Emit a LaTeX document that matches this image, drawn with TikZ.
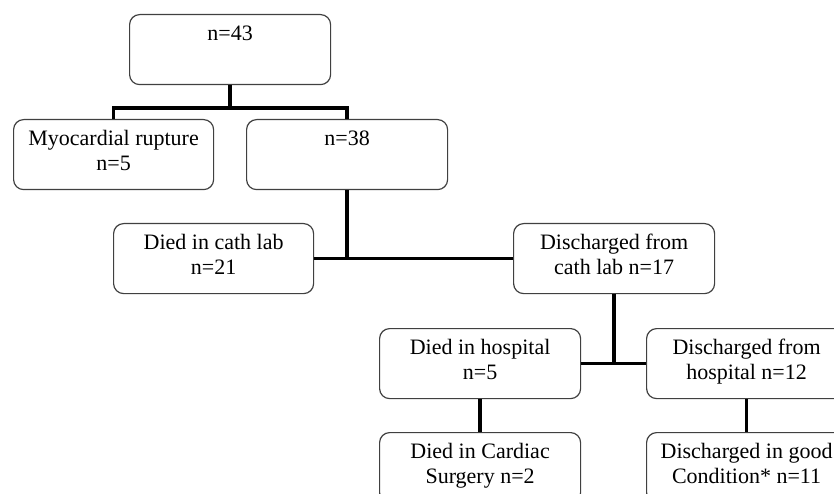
\documentclass[tikz,border=0pt]{standalone}
\usepackage{fontspec}
\setmainfont{Liberation Serif}
\begin{document}
\begin{tikzpicture}[x=1pt,y=-1pt,
  box/.style={draw=black!75, line width=1.2pt, rounded corners=10pt, minimum width=200pt, minimum height=70pt, inner sep=0pt, anchor=north west},
  txt/.style={anchor=north, align=center, inner sep=0pt, font=\fontsize{22}{25}\selectfont},
  conn/.style={line width=3.5pt, black}]
\useasboundingbox (0,0) rectangle (834,494);
\clip (0,0) rectangle (834,494);
% boxes
\node[box, minimum width=201pt] (A) at (129,14) {};
\node[box] (B) at (13,119) {};
\node[box, minimum width=201pt] (C) at (246,119) {};
\node[box] (D) at (113,223) {};
\node[box, minimum width=201pt] (E) at (513,223) {};
\node[box, minimum width=201pt] (F) at (379,328) {};
\node[box] (G) at (646,328) {};
\node[box, minimum width=201pt] (H) at (379,432) {};
\node[box] (I) at (646,432) {};
% texts
\node[txt] (tA) at ([yshift=-9pt]A.north) {\strut n=43};
\node[txt] (tB) at ([yshift=-9pt]B.north) {\strut Myocardial rupture\\n=5};
\node[txt] (tC) at ([yshift=-9pt]C.north) {\strut n=38};
\node[txt] (tD) at ([yshift=-9pt]D.north) {\strut Died in cath lab\\n=21};
\node[txt] (tE) at ([yshift=-9pt]E.north) {\strut Discharged from\\cath lab n=17};
\node[txt] (tF) at ([yshift=-9pt]F.north) {\strut Died in hospital\\n=5};
\node[txt] (tG) at ([yshift=-9pt]G.north) {\strut Discharged from\\hospital n=12};
\node[txt] (tH) at ([yshift=-9pt]H.north) {\strut Died in Cardiac\\Surgery n=2};
\node[txt] (tI) at ([yshift=-9pt]I.north) {\strut Discharged in good\\Condition* n=11};
% connectors
\path (A.south) ++(0,23) coordinate (j1);
\draw[conn] (A.south) -- (j1);
\draw[conn] (B.north) |- (j1) -| (C.north);
\draw[conn] (C.south) -- (C.south |- D.east);
\draw[conn] (D.east) -- (E.west);
\draw[conn] (E.south) -- (E.south |- F.east);
\draw[conn] (F.east) -- (G.west);
\draw[conn] (F.south) -- (H.north);
\draw[conn] (G.south) -- (I.north);
\end{tikzpicture}
\end{document}
